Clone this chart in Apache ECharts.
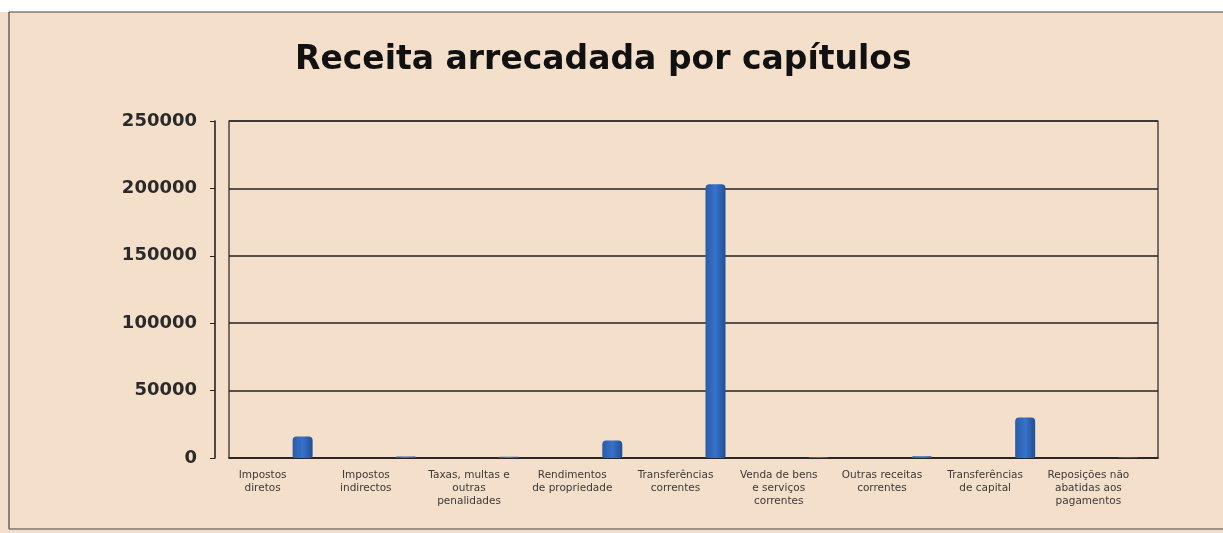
<!DOCTYPE html>
<html>
<head>
<meta charset="utf-8">
<script src="https://cdn.jsdelivr.net/npm/echarts@6/dist/echarts.min.js"></script>
<style>
  html, body { margin: 0; padding: 0; background: #ffffff; }
  #chart { width: 1223px; height: 533px; }
</style>
</head>
<body>
<div id="chart"></div>
<script>
// categorias (capítulos da receita)
const categories = [
  'Impostos\ndiretos',
  'Impostos\nindirectos',
  'Taxas, multas e\noutras\npenalidades',
  'Rendimentos\nde propriedade',
  'Transferências\ncorrentes',
  'Venda de bens\ne serviços\ncorrentes',
  'Outras receitas\ncorrentes',
  'Transferências\nde capital',
  'Reposições não\nabatidas aos\npagamentos'
]
// valores (aproximados)
const receita = [16000, 1200, 900, 13000, 203000, 700, 1300, 30000, 600]
const yTicks = [0, 50000, 100000, 150000, 200000, 250000]

const chart = echarts.init(document.getElementById('chart'))

const option = {
  backgroundColor: '#f4dfca',
  animation: false,
  title: {
    text: 'Receita arrecadada por capítulos',
    left: 290,
    top: 39,
    textStyle: {
      fontFamily: 'DejaVu Sans',
      fontWeight: 'bold',
      fontSize: 33,
      color: '#111'
    }
  },
  graphic: [
    // faixa branca no topo e moldura exterior
    { type: 'rect', shape: { x: 0, y: 0, width: 1223, height: 12 }, style: { fill: '#ffffff' } },
    { type: 'line', shape: { x1: 9, y1: 12, x2: 1223, y2: 12 }, style: { stroke: '#444', lineWidth: 1.2 } },
    { type: 'line', shape: { x1: 9, y1: 12, x2: 9, y2: 529 }, style: { stroke: '#444', lineWidth: 1.2 } },
    { type: 'line', shape: { x1: 9, y1: 529, x2: 1223, y2: 529 }, style: { stroke: '#444', lineWidth: 1.2 } }
  ],
  grid: [
    // plano de fundo: grelha e eixo y
    { left: 229, right: 65, top: 121, bottom: 75, show: true, borderColor: '#222', borderWidth: 1.2 },
    // barras e rótulos (deslocados para a direita, como no 3D)
    { left: 251, right: 43, top: 121, bottom: 75 }
  ],
  xAxis: [
    {
      type: 'category',
      gridIndex: 0,
      data: categories,
      axisLine: { show: true, lineStyle: { color: '#222', width: 1.6 } },
      axisTick: { show: false },
      axisLabel: { show: false }
    },
    {
      type: 'category',
      gridIndex: 1,
      data: categories,
      axisLine: { show: false },
      axisTick: { show: false },
      axisLabel: {
        interval: 0,
        margin: 11,
        padding: [0, 80, 0, 0],
        fontFamily: 'DejaVu Sans',
        fontSize: 10.5,
        lineHeight: 13,
        color: '#3a3a3a'
      }
    }
  ],
  yAxis: [
    {
      type: 'value',
      gridIndex: 0,
      min: 0,
      max: 250000,
      interval: 50000,
      offset: 14,
      axisLine: { show: true, lineStyle: { color: '#222', width: 1.6 } },
      axisTick: { show: true, length: 5, lineStyle: { color: '#222' } },
      axisLabel: {
        margin: 18,
        fontFamily: 'DejaVu Sans',
        fontWeight: 'bold',
        fontSize: 18,
        color: '#2a2a2a',
        formatter: v => (yTicks.includes(v) ? String(v) : '')
      },
      splitLine: { show: true, lineStyle: { color: '#222', width: 1.6 } }
    },
    {
      type: 'value',
      gridIndex: 1,
      min: 0,
      max: 250000,
      interval: 50000,
      show: false,
      splitLine: { show: false }
    }
  ],
  series: [
    {
      type: 'bar',
      name: 'Receita',
      xAxisIndex: 1,
      yAxisIndex: 1,
      data: receita,
      barWidth: 20,
      itemStyle: {
        color: new echarts.graphic.LinearGradient(0, 0, 1, 0, [
          { offset: 0, color: '#2a5ca8' },
          { offset: 0.5, color: '#3673c9' },
          { offset: 1, color: '#224f95' }
        ]),
        borderRadius: [4, 4, 2, 2]
      }
    }
  ]
}

chart.setOption(option)
</script>
</body>
</html>
